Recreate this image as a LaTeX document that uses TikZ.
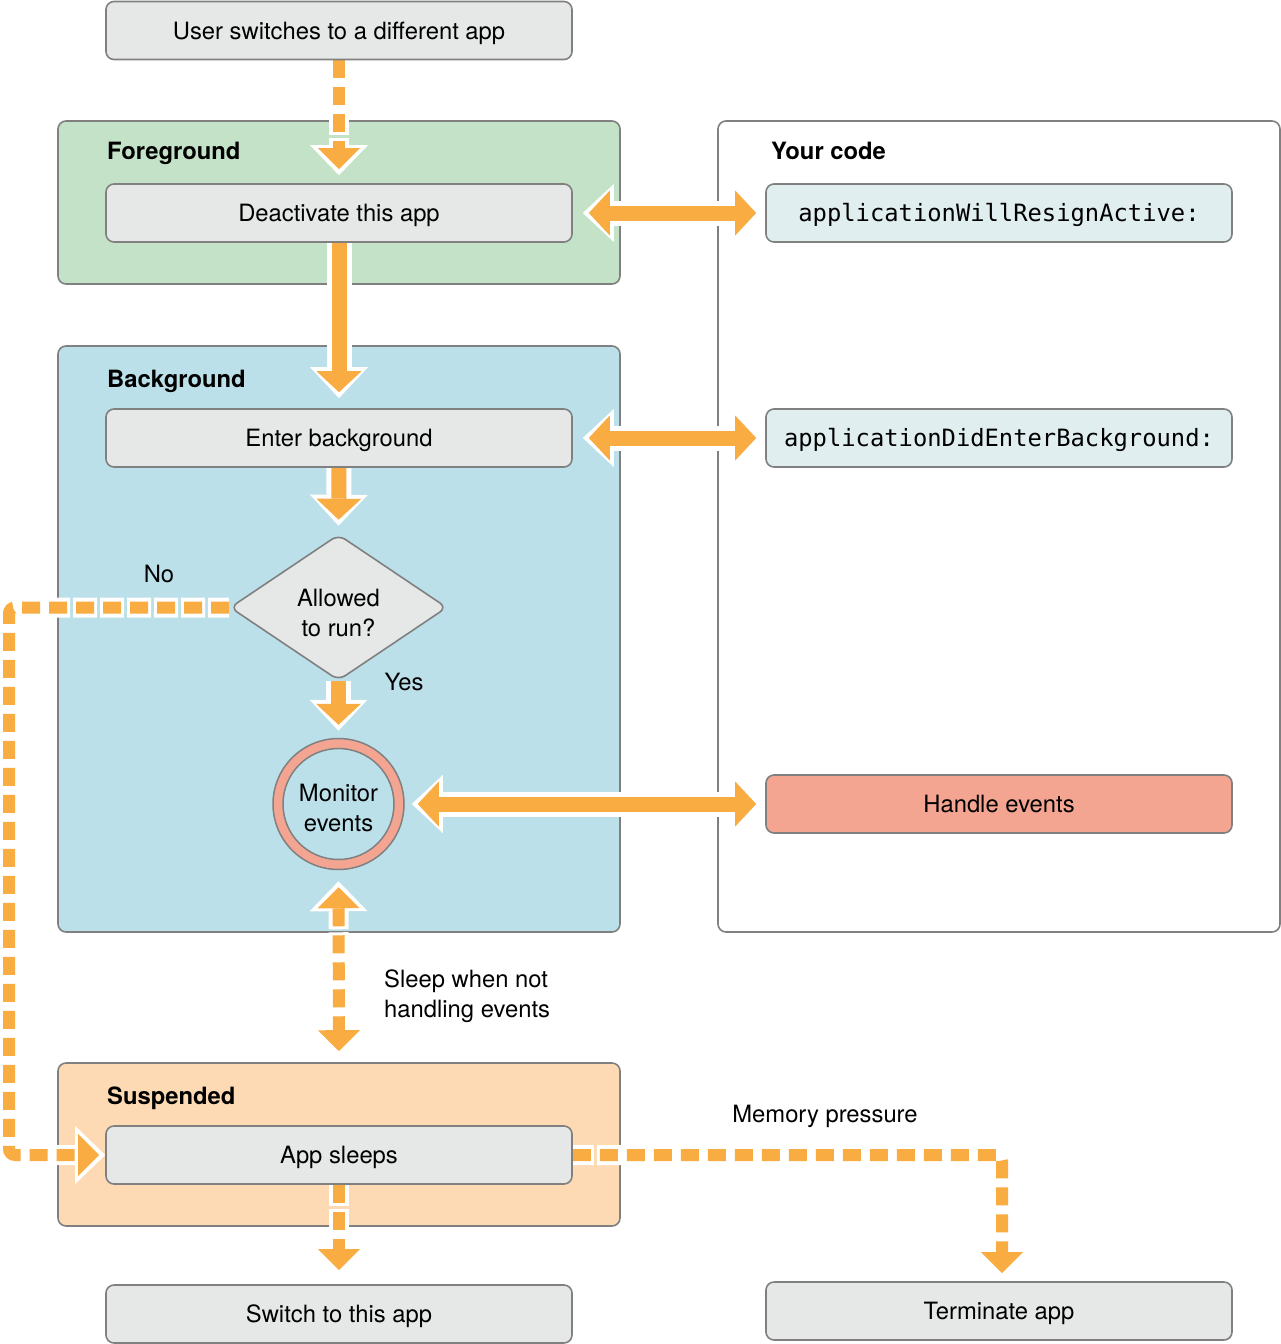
\documentclass[tikz,border=0pt]{standalone}
\usepackage{fontspec}
\setmainfont{TeX Gyre Heros}
\setmonofont{DejaVu Sans Mono}
\usetikzlibrary{arrows.meta,shapes.geometric}
\definecolor{arr}{HTML}{F9AC42}
\definecolor{bord}{HTML}{808080}
\definecolor{boxg}{HTML}{E6E7E7}
\definecolor{codeg}{HTML}{E1EEEF}
\definecolor{fgreen}{HTML}{C3E2C7}
\definecolor{bblue}{HTML}{BBE0EA}
\definecolor{speach}{HTML}{FDDAB4}
\definecolor{salm}{HTML}{F4A592}
\pgfdeclarelayer{bg}
\pgfdeclarelayer{arrl}
\pgfsetlayers{bg,arrl,main}
\tikzset{
 OT/.tip={Triangle[length=21pt,width=45pt,line width=0pt]},
 WT/.tip={Triangle[length=31pt,width=58pt,line width=0pt]},
 OD/.tip={Triangle[length=21pt,width=42pt,line width=0pt]},
 WD/.tip={Triangle[length=30pt,width=58pt,line width=0pt]},
 txt/.style={font=\fontsize{23.8}{30}\selectfont},
 box/.style={txt, draw=bord, line width=1.6pt, fill=boxg, rounded corners=8pt,
   minimum width=466pt, minimum height=58pt, inner sep=0pt, text height=17pt, text depth=0pt},
 codebox/.style={box, fill=codeg, font=\fontsize{23.8}{30}\selectfont\ttfamily},
 grp/.style={draw=bord, line width=1.6pt, rounded corners=8pt, minimum width=562pt, inner sep=0pt},
 glabel/.style={font=\fontsize{23.8}{30}\selectfont\bfseries, anchor=base west, inner sep=0pt},
 lab/.style={txt, inner sep=0pt, text height=17pt, text depth=0pt},
 labm/.style={txt, inner sep=0pt},
 sarr/.style={draw=arr, line width=15pt, -OT, shorten >=#1,
   preaction={draw=white, line width=25pt, -WT, shorten >=#1-6pt}},
 darr/.style 2 args={draw=arr, line width=15pt, OT-OT, shorten <=#1, shorten >=#2,
   preaction={draw=white, line width=25pt, WT-WT, shorten <=#1-6pt, shorten >=#2-6pt}},
 dsarr/.style={draw=arr, line width=12pt, dash pattern=on 18pt off 9pt, -OD, shorten >=#1,
   rounded corners=6pt,
   preaction={draw=white, line width=20pt, dash pattern=on 24pt off 3pt, dash phase=3pt,
   -WD, shorten >=#1-6pt}},
 ddarr/.style 2 args={draw=arr, line width=12pt, dash pattern=on 18pt off 9pt, OD-OD,
   shorten <=#1, shorten >=#2,
   preaction={draw=white, line width=20pt, dash pattern=on 24pt off 3pt, dash phase=6pt,
   WD-WD, shorten <=#1-6pt, shorten >=#2-6pt}},
}
\begin{document}
\begin{tikzpicture}[x=1pt,y=-1pt]
\useasboundingbox (0,0) rectangle (1281,1344);
\begin{pgfonlayer}{bg}
 \fill[white] (0,0) rectangle (1281,1344);
 \node[grp, fill=fgreen, minimum height=163pt] (fg) at (339,202.5) {};
 \node[grp, fill=white, minimum height=811pt] (yc) at (999,526.5) {};
 \node[grp, fill=bblue, minimum height=586pt] (bgg) at (339,639) {};
 \node[grp, fill=speach, minimum height=163pt] (sus) at (339,1144.5) {};
\end{pgfonlayer}
\node[glabel] (fgl) at (107,159.5) {Foreground};
\node[glabel] (ycl) at (771,159.5) {Your code};
\node[glabel] (bgl) at (107,387.5) {Background};
\node[glabel] (sul) at (107,1104.5) {Suspended};

\node[box] (top) at (339,30.5) {User switches to a different app};
\node[box] (deact) at (339,213) {Deactivate this app};
\node[codebox] (c1) at (999,213) {applicationWillResignActive:};
\node[box] (enter) at (339,438) {Enter background};
\node[codebox] (c2) at (999,438) {applicationDidEnterBackground:};
\node[diamond, draw=bord, line width=1.6pt, fill=boxg, rounded corners=8pt,
  minimum width=217pt, minimum height=146pt, inner sep=0pt, shape aspect=1.48,
  txt, align=center, text height=58pt, text depth=0pt] (dia) at (338.5,607.5) {Allowed\\to run?};
\node[circle, draw=bord, line width=1.5pt, fill=salm, minimum size=131pt, inner sep=0pt] (mon) at (338.5,804) {};
\node[circle, draw=bord, line width=1.5pt, fill=bblue, minimum size=111pt, inner sep=0pt,
  txt, align=center, text height=55pt, text depth=0pt] (moni) at (mon.center) {Monitor\\events};
\node[box, fill=salm] (hand) at (999,804) {Handle events};
\node[box] (app) at (339,1155) {App sleeps};
\node[box] (sw) at (339,1314) {Switch to this app};
\node[box] (term) at (999,1311) {Terminate app};

\node[lab] (no) at (159,574) {No};
\node[lab] (yes) at (404,682) {Yes};
\node[labm, align=left, anchor=base west] (sleep) at (384,1017.5) {Sleep when not\\handling events};
\node[lab] (mem) at (825,1114) {Memory pressure};

\begin{pgfonlayer}{arrl}
 \draw[dsarr=14pt] (top.south) -- (deact.north);
 \draw[sarr=16pt] (deact.south) -- (enter.north);
 \draw[darr={16pt}{9pt}] (deact.east) -- (c1.west);
 \draw[darr={16pt}{9pt}] (enter.east) -- (c2.west);
 \draw[sarr=14pt] (enter.south) -- (dia.north);
 \draw[sarr=13pt] (dia.south) -- (mon.north);
 \draw[darr={13pt}{9pt}] (mon.east) -- (hand.west);
 \draw[ddarr={17pt}{11pt}] (mon.south) -- (sus.north);
 \coordinate (cl) at (9,607.5);
 \draw[dsarr=6pt] (dia.west) -- (cl) |- (app.west);
 \coordinate (cr) at (1002,1155);
 \draw[dsarr=8pt] (app.east) -- (cr) -- (cr |- term.north);
 \draw[dsarr=14pt] (app.south) -- (sw.north);
\end{pgfonlayer}
\end{tikzpicture}
\end{document}
